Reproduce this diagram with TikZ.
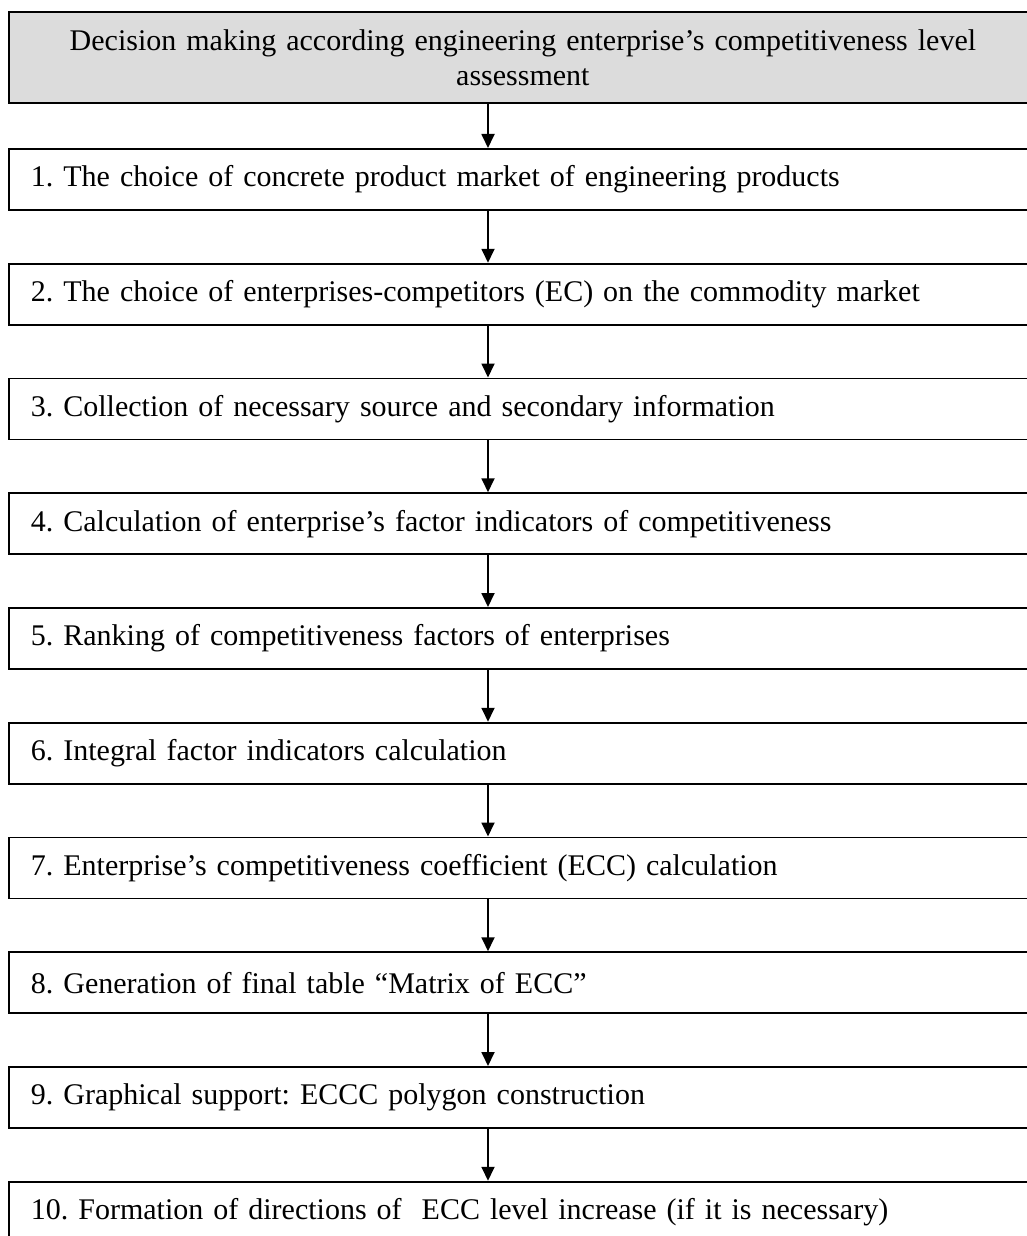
\documentclass[tikz,border=0pt]{standalone}
\usepackage{fontspec}
\setmainfont{Liberation Serif}
\usetikzlibrary{arrows.meta}
\frenchspacing
\definecolor{headgray}{RGB}{220,220,220}
\tikzset{
	stepbox/.style={draw, line width=0.9pt, anchor=north west, minimum width=514pt, minimum height=30.5pt,
		text width=492pt, inner xsep=11pt, align=left, font=\fontsize{15}{17.5}\selectfont},
	headbox/.style={stepbox, fill=headgray, align=center, minimum height=45.5pt},
	arr/.style={-{Triangle[width=6.5pt,length=7pt]}, line width=0.9pt}
}
\begin{document}
\begin{tikzpicture}[x=0.5pt, y=-0.5pt]
		\useasboundingbox (0,0) rectangle (1027,1236);
		\clip (0,0) rectangle (1027,1236);
		\coordinate (ax) at (488,0);
		\node[headbox] (s0) at (8,11) {Decision making according engineering enterprise’s competitiveness level\\assessment};
		\foreach \i/\txt in {1/{1. The choice of concrete product market of engineering products},
			2/{2. The choice of enterprises-competitors (EC) on the commodity market},
			3/{3. Collection of necessary source and secondary information},
			4/{4. Calculation of enterprise’s factor indicators of competitiveness},
			5/{5. Ranking of competitiveness factors of enterprises},
			6/{6. Integral factor indicators calculation},
			7/{7. Enterprise’s competitiveness coefficient (ECC) calculation},
			8/{8. Generation of final table “Matrix of ECC”},
			9/{9. Graphical support: ECCC polygon construction},
			10/{10. Formation of directions of ~ECC level increase (if it is necessary)}}
		{
			\pgfmathtruncatemacro{\j}{\i-1}
			\node[stepbox] (s\i) at (8, {148+(\i-1)*114.75}) {\txt};
			\draw[arr] (s\j.south -| ax) -- (s\i.north -| ax);
		}
	\end{tikzpicture}
\end{document}
